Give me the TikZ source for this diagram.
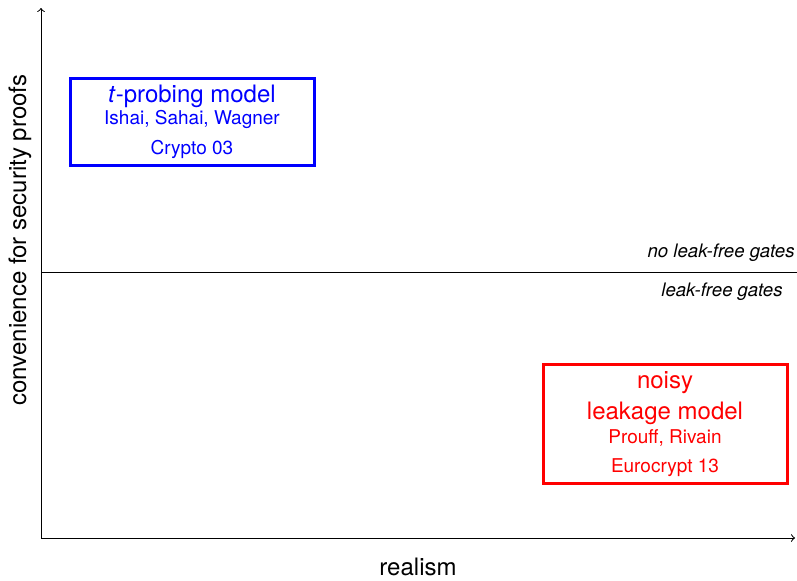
\documentclass[tikz,border=0pt]{standalone}
\usepackage{fontspec}
\setmainfont{TeX Gyre Heros}
\begin{document}
\begin{tikzpicture}[x=0.5pt, y=-0.5pt,
    modelbox/.style={draw, line width=1.5pt, minimum width=122pt, align=center,
      font=\fontsize{9.5}{11}\selectfont},
    gatelabel/.style={font=\fontsize{9.3}{11}\selectfont\itshape}]
      \useasboundingbox (0, 0) rectangle (797, 580);
      % axes
      \coordinate (O) at (41, 538);
      \coordinate (ytip) at (41, 8);
      \coordinate (xtip) at (795, 538);
      \draw[line width=0.5pt, ->] (O) -- (ytip);
      \draw[line width=0.5pt, ->] (O) -- (xtip);
      \node[font=\fontsize{12}{14}\selectfont] (xlab) at (418, 567) {realism};
      \node[font=\fontsize{12}{14}\selectfont, rotate=90] (ylab) at (20, 240) {convenience for security proofs};
      % gates line
      \coordinate (gl) at (41, 272);
      \coordinate (gr) at (797, 272);
      \draw[line width=0.5pt] (gl) -- (gr);
      \node[gatelabel, anchor=east, inner sep=0pt] (nolf) at (795, 253) {no leak-free gates};
      \node[gatelabel] (lf) at (722, 292) {leak-free gates};
      % models
      \node[modelbox, blue, minimum height=43pt] (probing) at (192, 122)
        {{\fontsize{12}{14}\selectfont \textit{t}-probing model}\\
         Ishai, Sahai, Wagner\\[4pt]
         Crypto 03};
      \node[modelbox, red, minimum height=58pt] (noisy) at (665, 424)
        {{\fontsize{12}{14}\selectfont noisy}\\[3pt]
         {\fontsize{12}{14}\selectfont leakage model}\\[1pt]
         Prouff, Rivain\\[3.5pt]
         Eurocrypt 13};
\end{tikzpicture}
\end{document}
